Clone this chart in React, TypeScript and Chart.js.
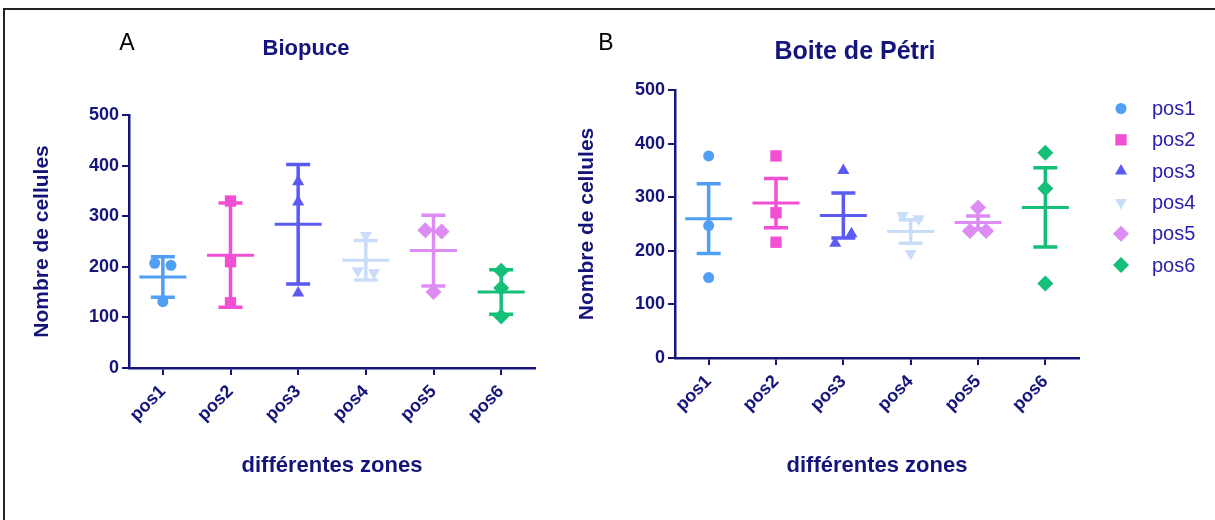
import React, { useEffect, useRef } from "react";
import { Chart, registerables } from "chart.js";

Chart.register(...registerables);

// ---------- data ----------
const categories = ["pos1", "pos2", "pos3", "pos4", "pos5", "pos6"];
const yTickValues = [0, 100, 200, 300, 400, 500];

// Biopuce (panel A): individual counts, mean and SD
const biopuceValues = [
  [207, 203, 131],
  [330, 210, 129],
  [368, 328, 148],
  [262, 192, 188],
  [272, 270, 150],
  [192, 158, 102],
];
const biopuceMeans = [180, 223, 284, 213, 232, 150];
const biopuceErrors = [40, 103, 118, 39, 70, 44];

// Boite de Pétri (panel B): individual counts, mean and SEM
const petriValues = [
  [377, 247, 150],
  [377, 271, 216],
  [350, 214, 232],
  [266, 260, 195],
  [281, 237, 237],
  [383, 316, 139],
];
const petriMeans = [260, 289, 266, 236, 253, 281];
const petriErrors = [65, 46, 42, 22, 12, 74];

// ---------- styles ----------
const colors = ["#519ff5", "#f24fd4", "#5b5af2", "#c9ddf8", "#dc8cf2", "#14bf78"];
const pointStyles = ["circle", "rect", "triangle", "triangle", "rectRot", "rectRot"];
const pointRotations = [0, 0, 0, 180, 0, 0];
const pointRadii = [5.5, 8, 7, 7, 8, 8];
const AXIS = "#16167a";
const TEXT = "#14147a";
const LEGEND_TEXT = "#2a20b0";
const FONT = "'Liberation Sans', Arial, sans-serif";

function jitterOffsets(vals: number[]): number[] {
  const off = vals.map(() => 0);
  for (let i = 0; i < vals.length; i++) {
    for (let j = i + 1; j < vals.length; j++) {
      if (off[i] === 0 && off[j] === 0 && Math.abs(vals[i] - vals[j]) < 20) {
        off[i] = -0.12;
        off[j] = 0.12;
      }
    }
  }
  return off;
}

function makeErrorPlugin(means: number[], errs: number[]) {
  return {
    id: "errorBars",
    afterDatasetsDraw(chart: any) {
      const xs = chart.scales.x;
      const ys = chart.scales.y;
      const ctx = chart.ctx;
      ctx.save();
      ctx.lineCap = "butt";
      means.forEach((m: number, i: number) => {
        const px = xs.getPixelForValue(i + 1);
        const pm = ys.getPixelForValue(m);
        const pt = ys.getPixelForValue(m + errs[i]);
        const pb = ys.getPixelForValue(m - errs[i]);
        ctx.strokeStyle = colors[i];
        ctx.lineWidth = 3.5;
        ctx.beginPath();
        ctx.moveTo(px, pt);
        ctx.lineTo(px, pb);
        ctx.moveTo(px - 12, pt);
        ctx.lineTo(px + 12, pt);
        ctx.moveTo(px - 12, pb);
        ctx.lineTo(px + 12, pb);
        ctx.stroke();
        ctx.lineWidth = 3;
        ctx.beginPath();
        ctx.moveTo(px - 23.5, pm);
        ctx.lineTo(px + 23.5, pm);
        ctx.stroke();
      });
      ctx.restore();
    },
  };
}

function drawMarker(ctx: CanvasRenderingContext2D, style: string, rot: number, r: number, x: number, y: number) {
  ctx.beginPath();
  if (style === "circle") {
    ctx.arc(x, y, r, 0, Math.PI * 2);
  } else if (style === "rect") {
    const s = Math.SQRT1_2 * r;
    ctx.rect(x - s, y - s, 2 * s, 2 * s);
  } else if (style === "triangle") {
    let rad = (rot * Math.PI) / 180;
    ctx.moveTo(x + Math.sin(rad) * r, y - Math.cos(rad) * r);
    rad += (2 * Math.PI) / 3;
    ctx.lineTo(x + Math.sin(rad) * r, y - Math.cos(rad) * r);
    rad += (2 * Math.PI) / 3;
    ctx.lineTo(x + Math.sin(rad) * r, y - Math.cos(rad) * r);
    ctx.closePath();
  } else {
    ctx.moveTo(x, y - r);
    ctx.lineTo(x + r, y);
    ctx.lineTo(x, y + r);
    ctx.lineTo(x - r, y);
    ctx.closePath();
  }
  ctx.fill();
}

const legendPlugin = {
  id: "customLegend",
  afterDraw(chart: any) {
    const ctx = chart.ctx;
    ctx.save();
    chart.data.datasets.forEach((ds: any, i: number) => {
      const y = 108.5 + i * 31.3;
      ctx.fillStyle = colors[i];
      drawMarker(ctx, pointStyles[i], pointRotations[i], pointRadii[i], 561, y);
      ctx.fillStyle = LEGEND_TEXT;
      ctx.font = `20px ${FONT}`;
      ctx.textAlign = "left";
      ctx.textBaseline = "middle";
      ctx.fillText(ds.label, 592, y + 1);
    });
    ctx.restore();
  },
};

function makeConfig(opts: {
  values: number[][];
  means: number[];
  errs: number[];
  padding: any;
  yWidth: number;
  xHeight: number;
  yTitlePad: number;
  legend: boolean;
}) {
  const datasets = opts.values.map((vals, i) => {
    const off = jitterOffsets(vals);
    return {
      label: categories[i],
      data: vals.map((v, k) => ({ x: i + 1 + off[k], y: v })),
      pointStyle: pointStyles[i],
      pointRotation: pointRotations[i],
      pointRadius: pointRadii[i],
      pointHoverRadius: pointRadii[i],
      backgroundColor: colors[i],
      borderColor: colors[i],
      borderWidth: 0,
      showLine: false,
    };
  });
  const plugins: any[] = [makeErrorPlugin(opts.means, opts.errs)];
  if (opts.legend) plugins.push(legendPlugin);
  return {
    type: "scatter" as const,
    data: { datasets },
    plugins,
    options: {
      responsive: false,
      animation: false as const,
      devicePixelRatio: 1,
      events: [],
      layout: { padding: opts.padding },
      plugins: {
        legend: { display: false },
        tooltip: { enabled: false },
        title: { display: false },
      },
      scales: {
        x: {
          type: "linear" as const,
          min: 0.5,
          max: 6.5,
          afterBuildTicks: (s: any) => {
            s.ticks = categories.map((_, i) => ({ value: i + 1 }));
          },
          afterFit: (s: any) => {
            s.height = opts.xHeight;
          },
          ticks: {
            callback: (v: any) => categories[Math.round(v) - 1] ?? "",
            autoSkip: false,
            minRotation: 45,
            maxRotation: 45,
            padding: 6,
            color: TEXT,
            font: { family: FONT, size: 18, weight: "bold" as const },
          },
          grid: {
            display: true,
            drawOnChartArea: false,
            drawTicks: true,
            tickLength: 7,
            color: AXIS,
            lineWidth: 2,
          },
          border: { display: true, color: AXIS, width: 2.5 },
          title: {
            display: true,
            text: "différentes zones",
            color: TEXT,
            font: { family: FONT, size: 22, weight: "bold" as const },
            padding: { top: 0, bottom: 41 },
          },
        },
        y: {
          type: "linear" as const,
          min: 0,
          max: 500,
          afterBuildTicks: (s: any) => {
            s.ticks = yTickValues.map((v) => ({ value: v }));
          },
          afterFit: (s: any) => {
            s.width = opts.yWidth;
          },
          ticks: {
            padding: 3,
            color: TEXT,
            font: { family: FONT, size: 18, weight: "bold" as const },
          },
          grid: {
            display: true,
            drawOnChartArea: false,
            drawTicks: true,
            tickLength: 7,
            color: AXIS,
            lineWidth: 2,
          },
          border: { display: true, color: AXIS, width: 2.5 },
          title: {
            display: true,
            text: "Nombre de cellules",
            color: TEXT,
            font: { family: FONT, size: 21, weight: "bold" as const },
            padding: { top: opts.yTitlePad, bottom: 0 },
          },
        },
      },
    },
  };
}

function ChartCanvas(props: { make: () => any; left: number; top: number; width: number; height: number }) {
  const ref = useRef<HTMLCanvasElement>(null);
  useEffect(() => {
    const chart = new Chart(ref.current as HTMLCanvasElement, props.make());
    return () => chart.destroy();
  }, []);
  return (
    <canvas
      ref={ref}
      width={props.width}
      height={props.height}
      style={{ position: "absolute", left: props.left, top: props.top, width: props.width, height: props.height }}
    />
  );
}

function Label(props: { text: string; x: number; y: number; size: number; bold?: boolean; color: string }) {
  return (
    <div
      style={{
        position: "absolute",
        left: props.x,
        top: props.y,
        transform: "translate(-50%, -50%)",
        fontFamily: FONT,
        fontSize: props.size,
        fontWeight: props.bold ? "bold" : "normal",
        color: props.color,
        lineHeight: 1,
        whiteSpace: "nowrap",
      }}
    >
      {props.text}
    </div>
  );
}

export default function App() {
  return (
    <div
      style={{
        position: "absolute",
        left: 0,
        top: 0,
        width: 1215,
        height: 520,
        overflow: "hidden",
        background: "#ffffff",
      }}
    >
      <div
        style={{
          position: "absolute",
          left: 3,
          top: 8,
          width: 1230,
          height: 530,
          borderTop: "2px solid #222",
          borderLeft: "2px solid #222",
        }}
      />
      <ChartCanvas
        left={0}
        top={0}
        width={560}
        height={520}
        make={() =>
          makeConfig({
            values: biopuceValues,
            means: biopuceMeans,
            errs: biopuceErrors,
            padding: { top: 115, right: 25, bottom: 0, left: 0 },
            yWidth: 129,
            xHeight: 152,
            yTitlePad: 30,
            legend: false,
          })
        }
      />
      <ChartCanvas
        left={560}
        top={0}
        width={655}
        height={520}
        make={() =>
          makeConfig({
            values: petriValues,
            means: petriMeans,
            errs: petriErrors,
            padding: { top: 90, right: 136, bottom: 0, left: 0 },
            yWidth: 115,
            xHeight: 162,
            yTitlePad: 15,
            legend: true,
          })
        }
      />
      <Label text="A" x={127} y={42} size={23} color="#000" />
      <Label text="B" x={606} y={42} size={23} color="#000" />
      <Label text="Biopuce" x={306} y={48} size={22} bold color={TEXT} />
      <Label text="Boite de Pétri" x={855} y={50} size={25} bold color={TEXT} />
    </div>
  );
}
